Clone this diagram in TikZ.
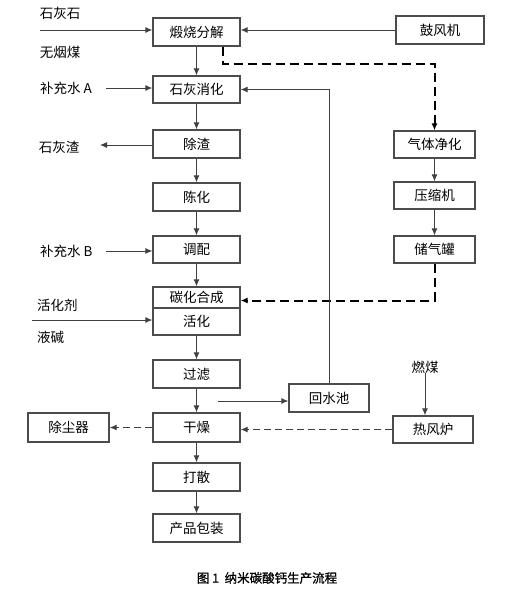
\documentclass[tikz,border=0pt]{standalone}
\usepackage{fontspec}
\setmainfont{Noto Sans CJK SC}
\newfontfamily\capfont[FakeBold=1]{Noto Sans CJK SC}
\usepackage{tikz}
\usetikzlibrary{arrows.meta}

\tikzset{
  box/.style={draw=black!70, line width=1.2pt, minimum width=87pt, minimum height=28pt, inner sep=0pt, font=\fontsize{13.5}{13.5}\selectfont},
  lbl/.style={inner sep=0pt, font=\fontsize{13.5}{13.5}\selectfont},
  flow/.style={draw=black!75, line width=1pt, -{Latex[length=7pt,width=6pt]}},
  gas/.style={draw=black, line width=2pt, dash pattern=on 9pt off 5pt, -{Latex[length=7pt,width=6pt]}},
  air/.style={draw=black!75, line width=1.2pt, dash pattern=on 7pt off 4pt, -{Latex[length=7pt,width=6pt]}}
}

\begin{document}
\begin{tikzpicture}[x=1pt, y=-1pt]

    \useasboundingbox (0,0) rectangle (517,592);

    \node[box] (calc) at (196.5,32) {煅烧分解};
    \node[box, minimum height=27pt] (slake) at (196.5,89.5) {石灰消化};
    \node[box] (deslag) at (196.5,144) {除渣};
    \node[box] (age) at (196.5,197) {陈化};
    \node[box, minimum height=27pt] (mix) at (196.5,249.5) {调配};
    \node[box, minimum height=21pt] (carb) at (196.5,297.5) {碳化合成};
    \node[box, minimum height=27pt] (act) at (196.5,321.5) {活化};
    \node[box] (filt) at (196.5,374) {过滤};
    \node[box, minimum height=29pt] (dry) at (196.5,427.5) {干燥};
    \node[box] (disp) at (196.5,477) {打散};
    \node[box] (pack) at (196.5,528) {产品包装};

    \node[box, minimum width=81pt, minimum height=29pt] (dust) at (68.5,427.5) {除尘器};

    \node[box, minimum width=88pt] (blower) at (440,30) {鼓风机};
    \node[box, minimum width=81pt, minimum height=27pt] (clean) at (434.5,144.5) {气体净化};
    \node[box, minimum width=81pt, minimum height=27pt] (comp) at (434.5,195.5) {压缩机};
    \node[box, minimum width=81pt, minimum height=27pt] (tank) at (434.5,249.5) {储气罐};
    \node[box, minimum width=80pt] (pool) at (329,398) {回水池};
    \node[box, minimum width=80pt, minimum height=27pt] (heater) at (433,429.5) {热风炉};

    \node[lbl] (lime) at (60,13) {石灰石};
    \node[lbl] (coal) at (60,52) {无烟煤};
    \node[lbl, anchor=west] (waterA) at (40,88) {补充水 A};
    \node[lbl] (slag) at (59,147) {石灰渣};
    \node[lbl, anchor=west] (waterB) at (40,251) {补充水 B};
    \node[lbl, anchor=west] (agent) at (37,305) {活化剂};
    \node[lbl, anchor=west] (lye) at (37,337) {液碱};
    \node[lbl] (fuel) at (425,367) {燃煤};
    \node[inner sep=0pt, font=\capfont\fontsize{12.5}{12.5}\selectfont] (title) at (267,578) {图 1\ \ 纳米碳酸钙生产流程};

    \coordinate (limein) at (40,30);
    \coordinate (waterAin) at (106,88);
    \coordinate (slagout) at (100,145);
    \coordinate (waterBin) at (106,251);
    \coordinate (agentin) at (32,320);
    \coordinate (ret) at (218,401);

    \draw[flow] (limein) -- (limein -| calc.west);
    \draw[flow] (waterAin) -- (waterAin -| slake.west);
    \draw[flow] (slagout -| deslag.west) -- (slagout);
    \draw[flow] (waterBin) -- (waterBin -| mix.west);
    \draw[flow] (agentin) -- (agentin -| act.west);

    \draw[flow] (calc) -- (slake);
    \draw[flow] (slake) -- (deslag);
    \draw[flow] (deslag) -- (age);
    \draw[flow] (age) -- (mix);
    \draw[flow] (mix) -- (carb);
    \draw[flow] (act) -- (filt);
    \draw[flow] (filt) -- (dry);
    \draw[flow] (dry) -- (disp);
    \draw[flow] (disp) -- (pack);

    \draw[flow] (blower.west) -- (blower.west -| calc.east);
    \draw[flow] (clean) -- (comp);
    \draw[flow] (comp) -- (tank);

    \draw[gas] ([xshift=26pt]calc.south) -- ++(0,17) -| (clean.north);
    \draw[gas] (tank.south) |- ([yshift=-3pt]carb.east);

    \draw[flow] (ret) -- (ret -| pool.west);
    \draw[flow] (pool.north) |- (slake.east);

    \draw[flow] (fuel.south) -- (fuel.south |- heater.north);
    \draw[air] (heater.west) -- (heater.west -| dry.east);
    \draw[air] (dry.west) -- (dust.east);

\end{tikzpicture}
\end{document}
